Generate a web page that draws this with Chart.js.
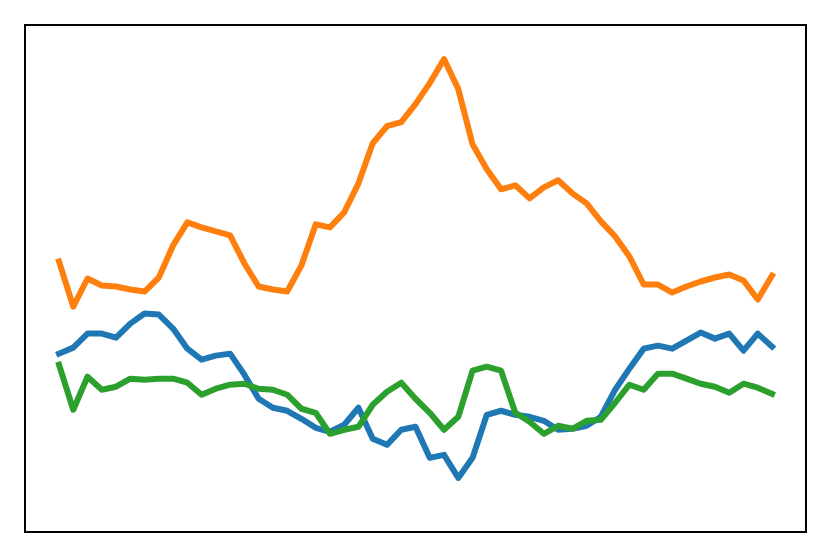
<!DOCTYPE html>
<html>
<head>
<meta charset="utf-8">
<script src="https://cdn.jsdelivr.net/npm/chart.js@4/dist/chart.umd.min.js"></script>
<style>
  body { margin: 0; background: #fff; }
  #wrap { width: 831px; height: 557px; position: relative; }
</style>
</head>
<body>
<div id="wrap"><canvas id="line-chart"></canvas></div>
<script>
// values, one per step
var steps = [];
for (var i = 0; i < 51; i++) steps.push(i);

var blueValues = [179,185,199,199,195,209,219,218,204,184,173,177,179,158,134,125,122,114,105,101,
  108,125,94,88,103,106,75,78,55,75,118,122,118,116,112,103,104,107,116,143,
  164,184,187,184,192,200,194,199,182,199,186];
var orangeValues = [271,226,254,247,246,243,241,255,287,310,305,301,297,269,246,243,241,267,308,305,
  320,349,389,406,410,428,449,473,443,388,363,343,347,334,345,352,339,329,311,296,
  276,248,248,240,246,251,255,258,252,233,257];
var greenValues = [168,123,156,143,146,154,153,154,154,150,138,144,148,149,144,143,138,124,120,99,
  103,106,128,141,150,134,120,103,116,162,166,162,120,111,99,107,104,112,113,130,
  148,143,159,159,154,149,146,140,149,145,139];

function toPoints(vals) {
  return vals.map(function(v, i) { return { x: steps[i], y: v }; });
}

function lineSet(vals, color, order) {
  return {
    data: toPoints(vals),
    borderColor: color,
    borderWidth: 6,
    borderJoinStyle: 'round',
    borderCapStyle: 'square',
    pointRadius: 0,
    fill: false,
    tension: 0,
    order: order
  };
}

var frame = {
  id: 'frame',
  afterDraw: function(chart) {
    var a = chart.chartArea, ctx = chart.ctx;
    ctx.save();
    ctx.strokeStyle = '#000';
    ctx.lineWidth = 2;
    ctx.strokeRect(a.left, a.top, a.right - a.left, a.bottom - a.top);
    ctx.restore();
  }
};

new Chart(document.getElementById('line-chart'), {
  type: 'line',
  data: {
    datasets: [
      lineSet(blueValues, '#1f77b4', 3),
      lineSet(orangeValues, '#ff7f0e', 2),
      lineSet(greenValues, '#2ca02c', 1)
    ]
  },
  plugins: [frame],
  options: {
    responsive: true,
    maintainAspectRatio: false,
    animation: false,
    layout: { padding: { left: 25, right: 25, top: 25, bottom: 25 } },
    plugins: { legend: { display: false }, tooltip: { enabled: false } },
    scales: {
      x: { type: 'linear', display: false, min: -2.384, max: 52.384 },
      y: { display: false, min: 1, max: 507 }
    }
  }
});
</script>
</body>
</html>
